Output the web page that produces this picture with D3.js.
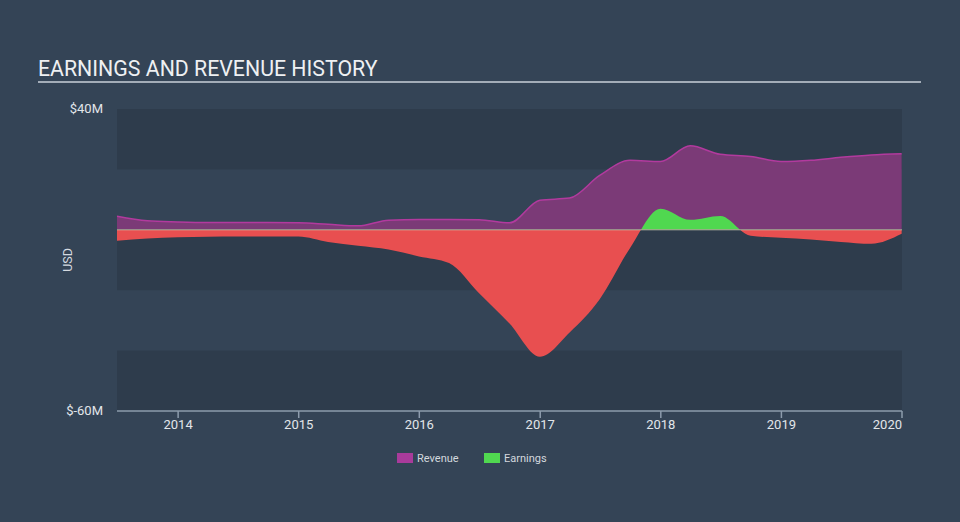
<!DOCTYPE html>
<html>
<head>
<meta charset="utf-8">
<script src="https://cdn.jsdelivr.net/npm/d3@7"></script>
<style>
body{margin:0;background:#344456;}
svg{display:block;font-family:Roboto,"Open Sans",sans-serif;}
</style>
</head>
<body>
<svg id="canvas" width="960" height="522"></svg>
<script>
// quarter ends, values in $M
let dates=["2013-06-30","2013-09-30","2013-12-31","2014-03-31","2014-06-30","2014-09-30","2014-12-31",
"2015-03-31","2015-06-30","2015-09-30","2015-12-31","2016-03-31","2016-06-30","2016-09-30","2016-12-31",
"2017-03-31","2017-06-30","2017-09-30","2017-12-31","2018-03-31","2018-06-30","2018-09-30","2018-12-31",
"2019-03-31","2019-06-30","2019-09-30","2019-12-31"];
let revenue=[4.5,3.0,2.6,2.4,2.4,2.4,2.3,1.8,1.3,3.2,3.4,3.4,3.3,2.3,9.8,10.5,18,23,22.6,27.8,25,24.3,22.6,23,24,24.8,25.2];
let earnings=[-3.6,-2.9,-2.5,-2.3,-2.2,-2.2,-2.2,-4,-5.3,-6.5,-8.8,-11,-21,-31,-42,-34,-23,-6,7,3.3,4.6,-2,-2.6,-3.2,-4,-4.6,-1.3];
let yTicks=[40,-60];
let bands=[[40,20],[0,-20],[-40,-60]];
let xYears=[2014,2015,2016,2017,2018,2019,2020];

let canvas=d3.select("#canvas");
let parse=d3.timeParse("%Y-%m-%d");
let data=dates.map((d,i)=>({date:parse(d),rev:revenue[i],earn:earnings[i]}));

let xScale=d3.scaleTime().domain([parse("2013-06-30"),parse("2020-01-01")]).range([117,902]);
let yScale=d3.scaleLinear().domain([-60,40]).range([411,109]);

// title
canvas.append("text").text("EARNINGS AND REVENUE HISTORY").attr("x",38).attr("y",76)
  .style("font-size","21.3px").attr("fill","#eef0f2");
canvas.append("line").attr("x1",38).attr("x2",921).attr("y1",82).attr("y2",82)
  .attr("stroke","#a3adb8").attr("stroke-width",2);

// background bands
canvas.selectAll(".band").data(bands).enter().append("rect").attr("class","band")
  .attr("x",117).attr("width",902-117)
  .attr("y",d=>yScale(d[0])).attr("height",d=>yScale(d[1])-yScale(d[0]))
  .attr("fill","#2e3c4c");

// y labels
canvas.selectAll(".ylab").data(yTicks).enter().append("text").attr("class","ylab")
  .text(d=>"$"+d+"M").attr("x",103).attr("y",d=>yScale(d)+4)
  .attr("text-anchor","end").style("font-size","13px").attr("fill","#e2e6ea");
canvas.append("text").text("USD").attr("transform","translate(72,260) rotate(-90)")
  .attr("text-anchor","middle").style("font-size","12.5px").attr("fill","#d5dae0");

let curve=d3.curveMonotoneX;
let y0=yScale(0);

// revenue
canvas.append("path").datum(data)
  .attr("d",d3.area().curve(curve).x(d=>xScale(d.date)).y0(y0).y1(d=>yScale(d.rev)))
  .attr("fill","#7b3a77");
canvas.append("path").datum(data)
  .attr("d",d3.line().curve(curve).x(d=>xScale(d.date)).y(d=>yScale(d.rev)))
  .attr("fill","none").attr("stroke","#b23a9e").attr("stroke-width",1.5);

// earnings, split by sign
let defs=canvas.append("defs");
defs.append("clipPath").attr("id","pos").append("rect").attr("x",0).attr("y",0).attr("width",960).attr("height",y0);
defs.append("clipPath").attr("id","neg").append("rect").attr("x",0).attr("y",y0).attr("width",960).attr("height",522);
let earnArea=d3.area().curve(curve).x(d=>xScale(d.date)).y0(y0).y1(d=>yScale(d.earn));
canvas.append("path").datum(data).attr("d",earnArea).attr("fill","#e84f50").attr("clip-path","url(#neg)");
canvas.append("path").datum(data).attr("d",earnArea).attr("fill","#50d850").attr("clip-path","url(#pos)");

// zero line
canvas.append("line").attr("x1",117).attr("x2",902).attr("y1",y0).attr("y2",y0)
  .attr("stroke","#c8c8b0").attr("stroke-opacity",0.5).attr("stroke-width",1.5);

// x axis
canvas.append("line").attr("x1",117).attr("x2",902).attr("y1",411).attr("y2",411)
  .attr("stroke","#8d9cad").attr("stroke-width",1.5);
canvas.selectAll(".xt").data(xYears).enter().append("line").attr("class","xt")
  .attr("x1",d=>xScale(new Date(d,0,1))).attr("x2",d=>xScale(new Date(d,0,1)))
  .attr("y1",411).attr("y2",418).attr("stroke","#8d9cad").attr("stroke-width",1.5);
canvas.selectAll(".xl").data(xYears).enter().append("text").attr("class","xl")
  .text(d=>d).attr("x",d=>xScale(new Date(d,0,1))).attr("y",429)
  .attr("text-anchor",(d,i)=>i==xYears.length-1?"end":"middle")
  .style("font-size","13px").attr("fill","#e2e6ea");

// legend
let legend=[["Revenue","#a93b9b",397],["Earnings","#50d850",484]];
legend.forEach(l=>{
  canvas.append("rect").attr("x",l[2]).attr("y",453).attr("width",16).attr("height",10).attr("fill",l[1]);
  canvas.append("text").text(l[0]).attr("x",l[2]+20).attr("y",462)
    .style("font-size","11px").attr("fill","#d3d8de");
});
</script>
</body>
</html>
